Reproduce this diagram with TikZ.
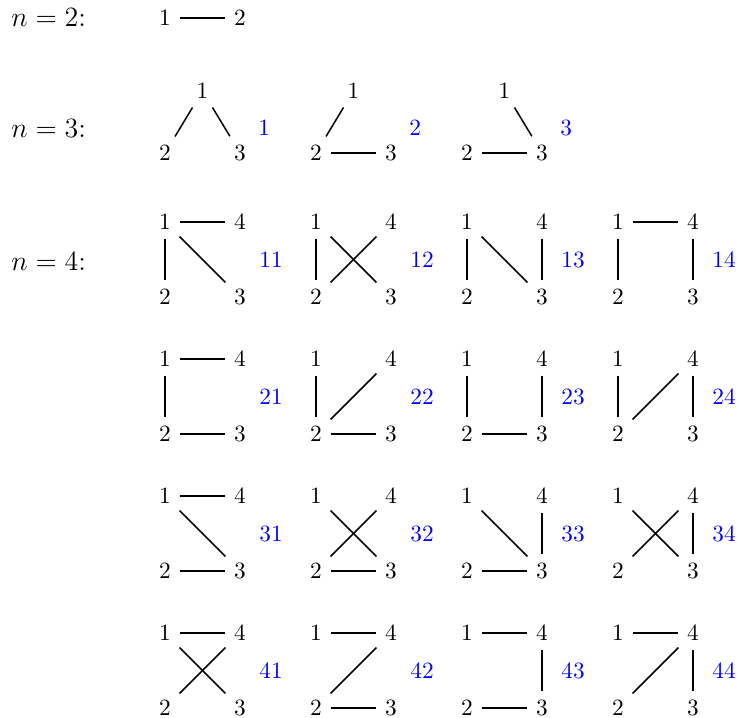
\documentclass[tikz,border=0pt]{standalone}
\begin{document}
\begin{tikzpicture}[x=0.4292pt,y=-0.4292pt,
  v/.style={inner sep=3.56pt,font=\normalsize},
  lab/.style={text=blue,anchor=west,inner sep=0pt,font=\normalsize},
  nlab/.style={anchor=west,inner sep=0pt,font=\large},
  e/.style={line width=0.65pt}]
\useasboundingbox (0,0) rectangle (740,718);
% labels
\node[nlab] (n2) at (11,18) {$n=2$:};
\node[nlab] (n3) at (11,128) {$n=3$:};
\node[nlab] (n4) at (11,261) {$n=4$:};
% n=2
\node[v] (p1) at (165,18) {1};
\node[v] (p2) at (240,18) {2};
\draw[e] (p1) -- (p2);
% n=3
\foreach \x/\l/\E in {165/1/{1/2,1/3},316/2/{1/2,2/3},467/3/{1/3,2/3}}{
  \node[v] (t\l-1) at (\x+37.5,91) {1};
  \node[v] (t\l-2) at (\x,153) {2};
  \node[v] (t\l-3) at (\x+75,153) {3};
  \node[lab] (tl\l) at (\x+93,128) {\l};
  \foreach \a/\b in \E {\draw[e] (t\l-\a) -- (t\l-\b);}
}
% n=4
\foreach \x/\y/\l/\E in {
  165/222/11/{1/4,1/2,1/3},
  316/222/12/{1/2,1/3,2/4},
  467/222/13/{1/2,1/3,4/3},
  618/222/14/{1/4,1/2,4/3},
  165/359/21/{1/4,1/2,2/3},
  316/359/22/{1/2,2/4,2/3},
  467/359/23/{1/2,2/3,4/3},
  618/359/24/{1/2,2/4,4/3},
  165/496/31/{1/4,1/3,2/3},
  316/496/32/{1/3,2/4,2/3},
  467/496/33/{1/3,2/3,4/3},
  618/496/34/{1/3,2/4,4/3},
  165/633/41/{1/4,1/3,2/4},
  316/633/42/{1/4,2/4,2/3},
  467/633/43/{1/4,2/3,4/3},
  618/633/44/{1/4,2/4,4/3}}{
  \node[v] (g\l-1) at (\x,\y) {1};
  \node[v] (g\l-4) at (\x+75,\y) {4};
  \node[v] (g\l-2) at (\x,\y+75) {2};
  \node[v] (g\l-3) at (\x+75,\y+75) {3};
  \node[lab] (gl\l) at (\x+94,\y+38) {\l};
  \foreach \a/\b in \E {\draw[e] (g\l-\a) -- (g\l-\b);}
}
\end{tikzpicture}
\end{document}
